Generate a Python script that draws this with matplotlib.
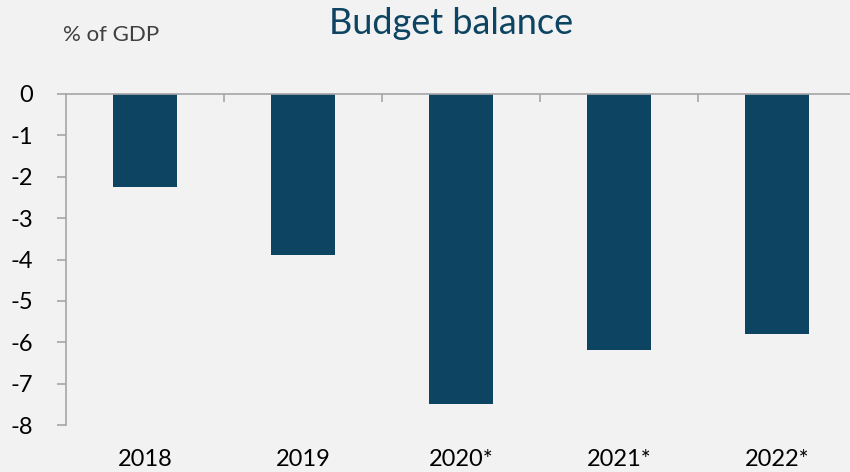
import matplotlib
matplotlib.use("Agg")
import matplotlib.pyplot as plt
from matplotlib.ticker import FixedLocator

# data
years = ["2018", "2019", "2020*", "2021*", "2022*"]
balance = [-2.24, -3.89, -7.49, -6.19, -5.79]
y_ticks = [0, -1, -2, -3, -4, -5, -6, -7, -8]

bg = "#f2f2f2"
bar_color = "#0d4461"
axis_gray = "#a6a6a6"

plt.rcParams["font.family"] = ["Lato", "DejaVu Sans"]

fig = plt.figure(figsize=(8.5, 4.72), dpi=100, facecolor=bg)
ax = fig.add_axes([66 / 850, 47 / 472, 790 / 850, 331 / 472], facecolor=bg)

x = range(len(years))
ax.bar(x, balance, width=0.4, color=bar_color)

ax.set_xlim(-0.5, len(years) - 0.5)
ax.set_ylim(-8, 0)

# spines: zero line on top, value axis on left
ax.spines["bottom"].set_visible(False)
ax.spines["right"].set_visible(False)
ax.spines["top"].set_color(axis_gray)
ax.spines["left"].set_color(axis_gray)
ax.spines["top"].set_linewidth(1.2)
ax.spines["left"].set_linewidth(1.2)

ax.set_yticks(y_ticks)
ax.set_yticklabels([str(v) for v in y_ticks])
ax.tick_params(axis="y", direction="out", length=6.5, width=1.2, color=axis_gray,
               labelsize=17, pad=17, labelcolor="#000000")

# category labels at the bottom, boundary ticks hanging from the zero line
ax.set_xticks(list(x))
ax.set_xticklabels(years)
ax.xaxis.set_minor_locator(FixedLocator([i + 0.5 for i in range(len(years) - 1)]))
ax.tick_params(axis="x", which="major", length=0, pad=17, labelsize=17,
               labelcolor="#000000")
ax.tick_params(axis="x", which="minor", bottom=False, top=True, direction="in",
               length=6, width=1.2, color=axis_gray)

fig.text(0.531, 0.951, "Budget balance", ha="center", va="center",
         fontsize=26, color=bar_color)
fig.text(0.074, 0.925, "% of GDP", ha="left", va="center",
         fontsize=16, color="#404040")

fig.savefig("out.png", dpi=100, facecolor=bg)
